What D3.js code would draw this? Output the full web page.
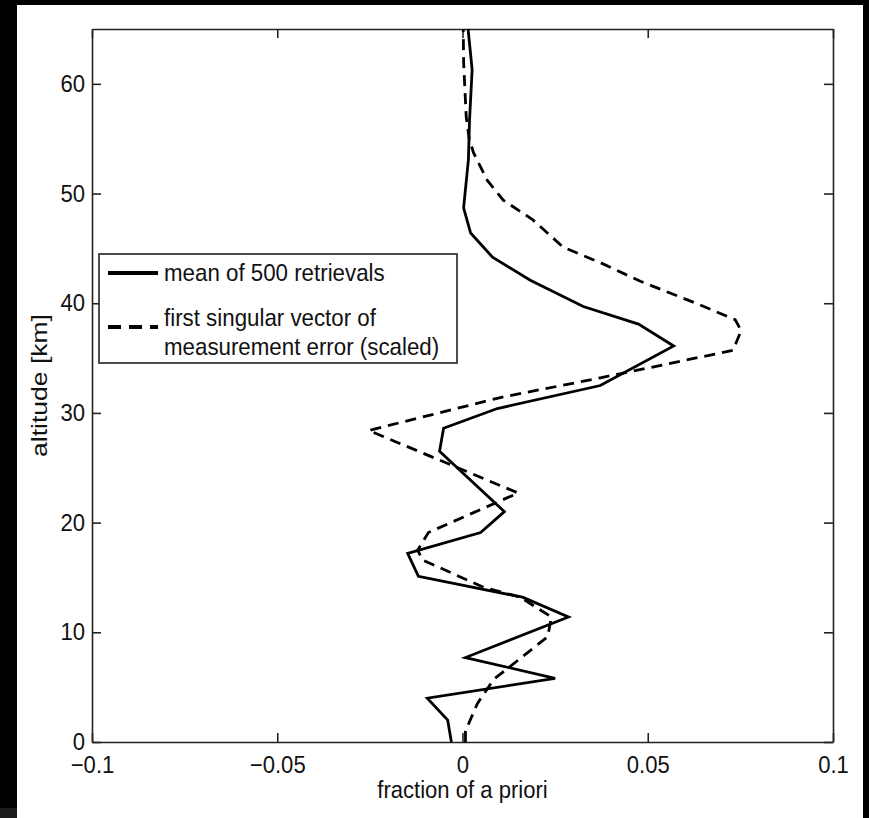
<!DOCTYPE html>
<meta charset="utf-8">
<style>
    html, body { margin: 0; padding: 0; background: #000; }
    svg { display: block; }
    text { font-family: "Liberation Sans", Arial, sans-serif; fill: #111; }
    .axis path, .axis line { stroke: #222; stroke-width: 1.6; }
    .line { fill: none; stroke: #000; stroke-width: 2.8; stroke-linejoin: miter; }
    .dashed { stroke-dasharray: 11, 7; }
</style>
<body>
<script src="https://cdn.jsdelivr.net/npm/d3@7/dist/d3.min.js"></script>
<script>

    // altitude grid [km] and values (fraction of a priori)
    var meanAlt = [0, 2, 4, 5.8, 7.7, 11.4, 13.2, 15.1, 17.2, 19.1, 21.0, 26.5, 28.6, 30.4, 32.5, 36.1, 38.1, 39.7, 42.1, 44.2, 46.4, 48.7, 53.1, 56.7, 61.3, 65];
    var meanVal = [-0.003, -0.004, -0.0095, 0.025, 0.0008, 0.0286, 0.0162, -0.0119, -0.0148, 0.0049, 0.0113, -0.0062, -0.0051, 0.0094, 0.0372, 0.057, 0.0475, 0.0326, 0.0183, 0.0081, 0.0022, 0.0003, 0.0016, 0.0019, 0.0026, 0.0015];

    var svecAlt = [0, 1, 3.5, 5.7, 9.6, 11.4, 13.2, 14.1, 16.6, 17.5, 19.1, 22.7, 28.4, 31.4, 33.2, 35.7, 37.5, 38.5, 40, 42, 43.7, 45.1, 47.6, 49.4, 51.2, 53.7, 55, 57, 62, 65];
    var svecVal = [0.0008, 0.0008, 0.004, 0.0084, 0.023, 0.024, 0.0156, 0.0057, -0.0108, -0.0121, -0.0092, 0.015, -0.0253, 0.0102, 0.0372, 0.073, 0.0752, 0.0736, 0.063, 0.048, 0.0372, 0.0272, 0.019, 0.011, 0.0067, 0.003, 0.0018, 0.001, 0.0003, 0.0002];

    var xTicks = [-0.1, -0.05, 0, 0.05, 0.1];
    var yTicks = [0, 10, 20, 30, 40, 50, 60];
    var legendLabels = [["mean of 500 retrievals"], ["first singular vector of", "measurement error (scaled)"]];

    var W = 869, H = 818;
    var margin = {top: 29, right: 36, bottom: 76, left: 92}
        , width = W - margin.left - margin.right
        , height = H - margin.top - margin.bottom;

    var xScale = d3.scaleLinear().domain([-0.1, 0.1]).range([0, width]);
    var yScale = d3.scaleLinear().domain([0, 65]).range([height, 0]);

    var svg0 = d3.select("body").append("svg")
        .attr("width", W)
        .attr("height", H);

    // white figure sheet on black
    svg0.append("rect").attr("x", 17).attr("y", 5).attr("width", 846).attr("height", H - 5).attr("fill", "#fff");
    svg0.append("rect").attr("x", 0).attr("y", 808).attr("width", 17).attr("height", 10).attr("fill", "#1c1c1c");

    var svg = svg0.append("g")
        .attr("transform", "translate(" + margin.left + "," + margin.top + ")");

    var fmt = function(d) { return d === 0 ? "0" : d3.format("")(d).replace("-", "\u2212"); };

    // axes with inward ticks, box on all sides
    svg.append("g").attr("class", "axis")
        .attr("transform", "translate(0," + height + ")")
        .call(d3.axisBottom(xScale).tickValues(xTicks).tickSizeInner(-9).tickSizeOuter(0).tickPadding(14).tickFormat(fmt));
    svg.append("g").attr("class", "axis")
        .call(d3.axisTop(xScale).tickValues(xTicks).tickSizeInner(-9).tickSizeOuter(0).tickFormat(""));
    svg.append("g").attr("class", "axis")
        .call(d3.axisLeft(yScale).tickValues(yTicks).tickSizeInner(-9).tickSizeOuter(0).tickPadding(7).tickFormat(d3.format("d")));
    svg.append("g").attr("class", "axis")
        .attr("transform", "translate(" + width + ",0)")
        .call(d3.axisRight(yScale).tickValues(yTicks).tickSizeInner(-9).tickSizeOuter(0).tickFormat(""));

    // squeeze tick labels a little, keeping them on their positions
    svg.selectAll(".axis .tick text")
        .style("font-size", "24px")
        .attr("transform", "scale(0.92,1)")
        .attr("x", function() { return +d3.select(this).attr("x") / 0.92; });

    // data lines
    var line = d3.line()
        .x(function(d) { return xScale(d[1]); })
        .y(function(d) { return yScale(d[0]); });

    svg.append("path")
        .datum(d3.zip(meanAlt, meanVal))
        .attr("class", "line")
        .attr("d", line);

    svg.append("path")
        .datum(d3.zip(svecAlt, svecVal))
        .attr("class", "line dashed")
        .attr("d", line);

    // axis labels
    svg.append("text")
        .attr("transform", "translate(" + (width / 2) + "," + (height + 56) + ") scale(0.92,1)")
        .attr("text-anchor", "middle")
        .style("font-size", "24px")
        .text("fraction of a priori");

    svg.append("text")
        .attr("transform", "translate(" + (-45) + "," + (height / 2) + ") rotate(-90)")
        .attr("text-anchor", "middle")
        .attr("textLength", 143)
        .attr("lengthAdjust", "spacingAndGlyphs")
        .style("font-size", "22px")
        .text("altitude [km]");

    // legend
    var lg = svg0.append("g").attr("transform", "translate(99,254)");
    lg.append("rect")
        .attr("width", 358).attr("height", 109)
        .attr("fill", "#fff").attr("stroke", "#222").attr("stroke-width", 1.6);

    var rows = [{y: 19, dashed: false, lines: legendLabels[0], ty: [19]},
                {y: 73, dashed: true, lines: legendLabels[1], ty: [64, 93]}];
    rows.forEach(function(r) {
        lg.append("line")
            .attr("class", "line")
            .attr("x1", 9).attr("x2", 59)
            .attr("y1", r.y).attr("y2", r.y)
            .style("stroke-width", 4)
            .style("stroke-dasharray", r.dashed ? "13,8" : null);
        r.lines.forEach(function(s, i) {
            lg.append("text")
                .attr("transform", "translate(65," + r.ty[i] + ") scale(0.93,1)")
                .attr("dy", "0.35em")
                .style("font-size", "24px")
                .text(s);
        });
    });

</script>
</body>
